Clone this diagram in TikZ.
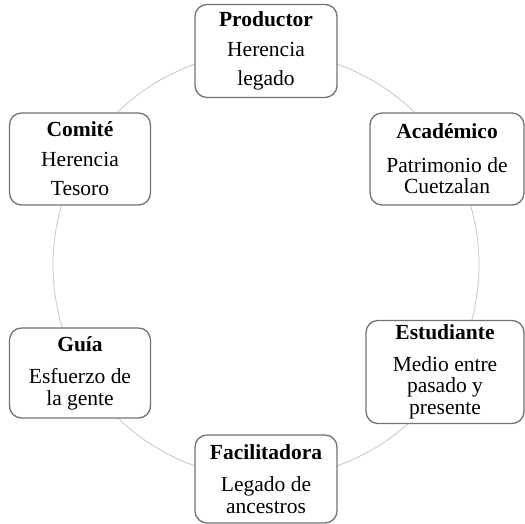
\documentclass[tikz,border=0pt]{standalone}
\usepackage{fontspec}
\setmainfont{Liberation Serif}
\usepackage{tikz}

\begin{document}
\begin{tikzpicture}[x=1pt,y=1pt,
caja/.style={draw=gray!90!black,line width=1.3pt,rounded corners=12pt,fill=white,align=center,inner sep=0pt,font=\fontsize{21.5}{21.5}\selectfont}]
\useasboundingbox (0,0) rectangle (525,524);
% circle behind the boxes
\draw[gray!45,line width=0.8pt](266,259) circle (213pt);
\node[caja,minimum width=142pt,minimum height=93pt](prod) at (266,473){\textbf{Productor}\\[8pt]Herencia\\[8pt]legado};
\node[caja,minimum width=154pt,minimum height=92pt](acad) at (447,365){\textbf{Académico}\\[12pt]Patrimonio de\\Cuetzalan};
\node[caja,minimum width=158pt,minimum height=103pt](estu) at (445,152){\textbf{Estudiante}\\[10pt]Medio entre\\pasado y\\presente};
\node[caja,minimum width=142pt,minimum height=88pt](faci) at (266,45){\textbf{Facilitadora}\\[11pt]Legado de\\ancestros};
\node[caja,minimum width=141pt,minimum height=90pt](guia) at (80,151){\textbf{Guía}\\[11pt]Esfuerzo de\\la gente};
\node[caja,minimum width=141pt,minimum height=92pt](comi) at (80,365){\textbf{Comité}\\[8pt]Herencia\\[8pt]Tesoro};
\end{tikzpicture}
\end{document}
